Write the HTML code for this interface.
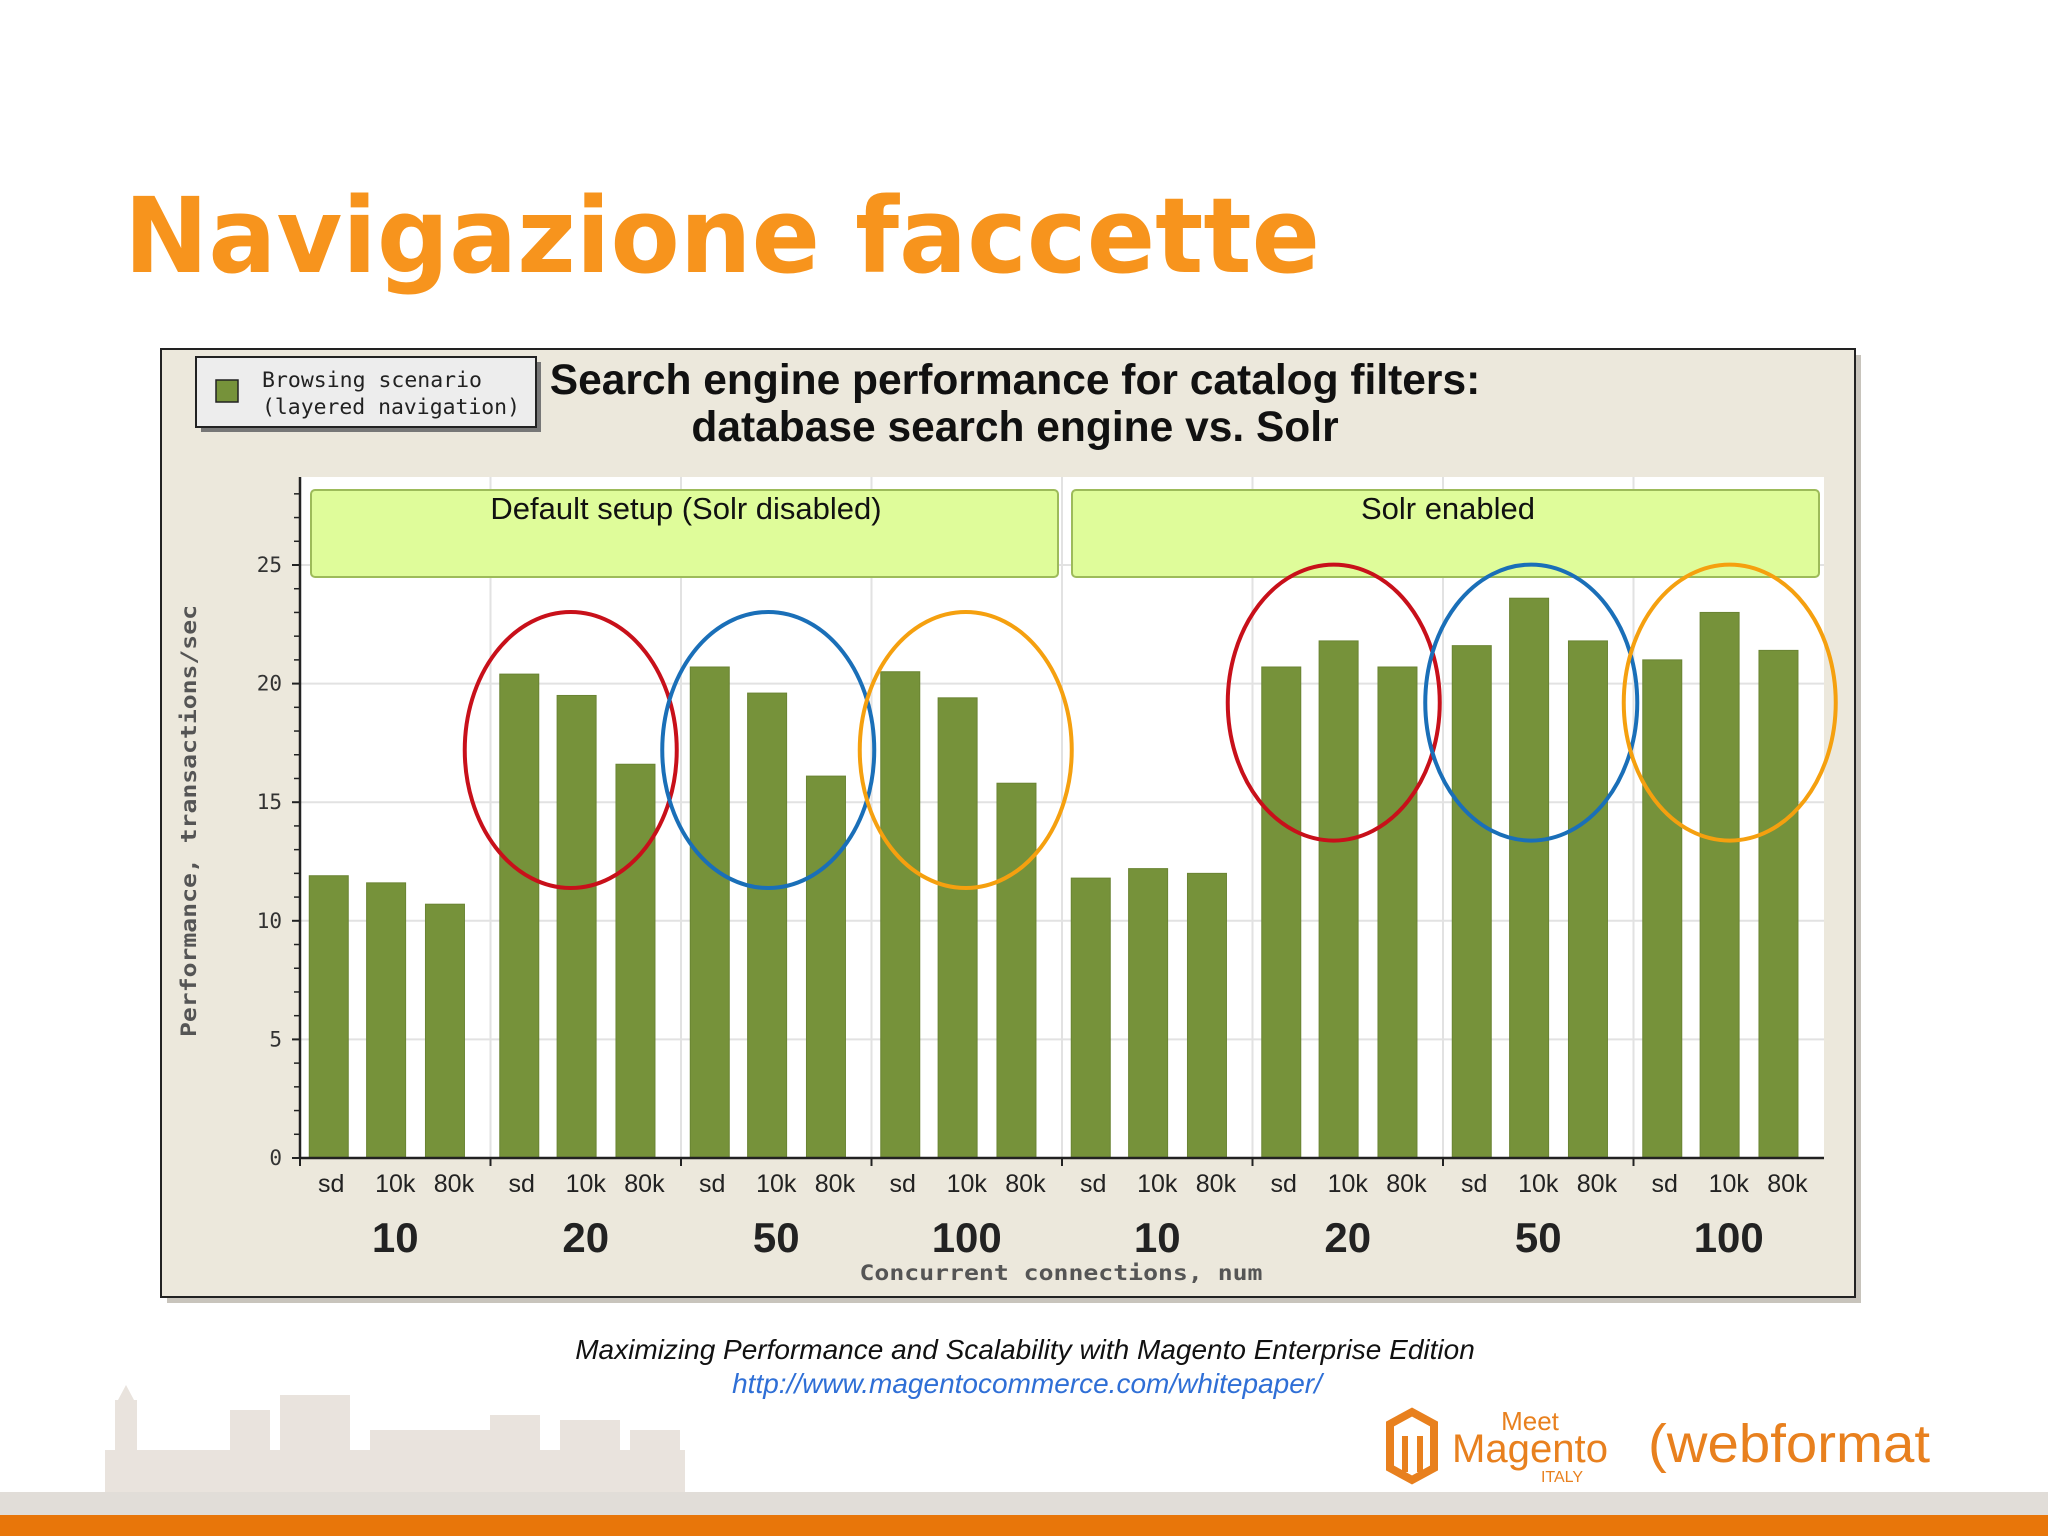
<!DOCTYPE html>
<html><head><meta charset="utf-8"><style>
html,body{margin:0;padding:0;background:#fff;}
svg{display:block;}
</style></head><body>
<svg id="chart" width="2048" height="1536" viewBox="0 0 2048 1536" xmlns="http://www.w3.org/2000/svg">
<rect x="0" y="0" width="2048" height="1536" fill="#ffffff"/>
<text x="124" y="272" font-family="'DejaVu Sans','Liberation Sans',sans-serif" font-weight="bold" font-size="104" fill="#F7941D" textLength="1196" lengthAdjust="spacingAndGlyphs">Navigazione faccette</text>

<g fill="#E9E3DD">
<rect x="105" y="1450" width="580" height="42"/>
<rect x="115" y="1400" width="22" height="50"/><polygon points="118,1400 126,1385 134,1400"/>
<rect x="230" y="1410" width="40" height="40"/><rect x="280" y="1395" width="70" height="55"/>
<rect x="370" y="1430" width="120" height="20"/><rect x="490" y="1415" width="50" height="35"/>
<rect x="560" y="1420" width="60" height="30"/><rect x="630" y="1430" width="50" height="20"/>
</g>
<rect x="0" y="1492" width="2048" height="23" fill="#E1DDD8"/>
<rect x="0" y="1515" width="2048" height="21" fill="#E8760A"/>

<g>
<rect x="167" y="355" width="1694" height="948" fill="#c8c4bc"/>
<rect x="161" y="349" width="1694" height="948" fill="#ECE8DC" stroke="#222" stroke-width="2"/>
<rect x="201" y="362" width="340" height="70" fill="#777"/>
<rect x="196" y="357" width="340" height="70" fill="#EDEDED" stroke="#222" stroke-width="2"/>
<rect x="216" y="380" width="22" height="22" fill="#76923A" stroke="#222" stroke-width="1.5"/>
<text x="262" y="387" font-family="'DejaVu Sans Mono','Liberation Mono',monospace" font-size="21" fill="#222" textLength="220" lengthAdjust="spacingAndGlyphs">Browsing scenario</text>
<text x="262" y="414" font-family="'DejaVu Sans Mono','Liberation Mono',monospace" font-size="21" fill="#222" textLength="258" lengthAdjust="spacingAndGlyphs">(layered navigation)</text>
<text x="1015" y="394" text-anchor="middle" font-family="'Liberation Sans',sans-serif" font-weight="bold" font-size="42.5" fill="#111">Search engine performance for catalog filters:</text>
<text x="1015" y="441" text-anchor="middle" font-family="'Liberation Sans',sans-serif" font-weight="bold" font-size="42.5" fill="#111">database search engine vs. Solr</text>
<rect x="300" y="477" width="1524" height="681" fill="#ffffff"/>
<g id="grid"></g>
<rect x="311" y="490" width="747" height="87" rx="4" fill="#DFFC9A" stroke="#9DBB5A" stroke-width="2"/>
<text x="686" y="519" text-anchor="middle" font-family="'Liberation Sans',sans-serif" font-size="31" fill="#111">Default setup (Solr disabled)</text>
<rect x="1072" y="490" width="747" height="87" rx="4" fill="#DFFC9A" stroke="#9DBB5A" stroke-width="2"/>
<text x="1448" y="519" text-anchor="middle" font-family="'Liberation Sans',sans-serif" font-size="31" fill="#111">Solr enabled</text>
<g id="bars"></g>
<g id="axes"></g>
<g id="ellipses"></g>
<text transform="translate(196,821) rotate(-90)" text-anchor="middle" font-family="'DejaVu Sans Mono','Liberation Mono',monospace" font-weight="bold" font-size="21" fill="#555" textLength="432" lengthAdjust="spacingAndGlyphs">Performance, transactions/sec</text>
<text x="1061" y="1280" text-anchor="middle" font-family="'DejaVu Sans Mono','Liberation Mono',monospace" font-weight="bold" font-size="21" fill="#555" textLength="403" lengthAdjust="spacingAndGlyphs">Concurrent connections, num</text>
</g>

<text x="1025" y="1359" text-anchor="middle" font-family="'Liberation Sans',sans-serif" font-style="italic" font-size="28" fill="#111">Maximizing Performance and Scalability with Magento Enterprise Edition</text>
<text x="1027" y="1393" text-anchor="middle" font-family="'Liberation Sans',sans-serif" font-style="italic" font-size="28" fill="#2F6FD6">http://www.magentocommerce.com/whitepaper/</text>

<g fill="#E8801E">
<polygon points="1390,1424 1412,1412 1434,1424 1434,1468 1412,1480 1390,1468" fill="none" stroke="#E8801E" stroke-width="8"/>
<rect x="1402" y="1436" width="6" height="36"/><rect x="1417" y="1436" width="6" height="36"/>
<text x="1530" y="1430" text-anchor="middle" font-family="'Liberation Sans',sans-serif" font-size="26">Meet</text>
<text x="1452" y="1462" font-family="'Liberation Sans',sans-serif" font-size="40" textLength="156" lengthAdjust="spacingAndGlyphs">Magento</text>
<text x="1562" y="1482" text-anchor="middle" font-family="'Liberation Sans',sans-serif" font-size="16">ITALY</text>
</g>
<g>
<text x="1648" y="1462" font-family="'Liberation Sans',sans-serif" font-size="54" fill="#E8801E" textLength="282" lengthAdjust="spacingAndGlyphs">(webformat</text>
</g>

<script>
const groupLabels = ["10","20","50","100","10","20","50","100"];
const subLabels = ["sd","10k","80k"];
const values = [11.9,11.6,10.7, 20.4,19.5,16.6, 20.7,19.6,16.1, 20.5,19.4,15.8, 11.8,12.2,12.0, 20.7,21.8,20.7, 21.6,23.6,21.8, 21.0,23.0,21.4];
const yTicks = [0,5,10,15,20,25];
const highlightGroups = [1,2,3,5,6,7];
const highlightCenters = [17.2,17.2,17.2,19.2,19.2,19.2];
const highlightColors = ["#C8101A","#1A6FB8","#F5A00F","#C8101A","#1A6FB8","#F5A00F"];

const NS = "http://www.w3.org/2000/svg";
const X0 = 300, X1 = 1824, Y0 = 1158, UNIT = 23.72;
const GW = (X1 - X0) / groupLabels.length;
const ELLIPSE_SHIFT = [-15, -8, -1, -14, -7, 1];
const yScale = v => Y0 - v * UNIT;
const groupX = g => X0 + g * GW;
const barCenter = i => groupX(Math.floor(i / 3)) + GW * [0.151, 0.452, 0.761][i % 3];
const labelCenter = i => groupX(Math.floor(i / 3)) + GW * [0.164, 0.5, 0.808][i % 3];
function mk(tag, attrs, parent, txt){
  const e = document.createElementNS(NS, tag);
  for (const k in attrs) e.setAttribute(k, attrs[k]);
  if (txt !== undefined) e.textContent = txt;
  parent.appendChild(e);
  return e;
}
const grid = document.getElementById("grid");
const bars = document.getElementById("bars");
const axes = document.getElementById("axes");
const ell = document.getElementById("ellipses");

yTicks.forEach(t => {
  if (t > 0) {
    const l = mk("line", {x1:X0, x2:X1, y1:yScale(t), y2:yScale(t), stroke:"#e2e2e2", "stroke-width":2}, grid);
    
    
  }
  const tl = mk("text", {x:X0-18, y:yScale(t)+7, "text-anchor":"end", "font-family":"'DejaVu Sans Mono','Liberation Mono',monospace", "font-size":21, fill:"#333"}, axes, String(t));
  
  
  const tk = mk("line", {x1:X0-8, x2:X0, y1:yScale(t), y2:yScale(t), stroke:"#222", "stroke-width":2}, axes);
  
  
});
for (let v = 1; v <= 28; v++) {
  if (v % 5 === 0) continue;
  const mt = mk("line", {x1:X0-6, x2:X0, y1:yScale(v), y2:yScale(v), stroke:"#222", "stroke-width":1.5}, axes);
  
  
}
for (let g = 1; g < groupLabels.length; g++) {
  const vl = mk("line", {x1:groupX(g), x2:groupX(g), y1:477, y2:Y0, stroke:"#e2e2e2", "stroke-width":2}, grid);
  
  
}
values.forEach((v, i) => {
  const cx = barCenter(i);
  const r = mk("rect", {x:cx-19.5, y:yScale(v), width:39, height:Y0-yScale(v), fill:"#76923A", stroke:"#6a8433", "stroke-width":1}, bars);
  
  
  const s = mk("text", {x:labelCenter(i), y:1192, "text-anchor":"middle", "font-family":"'Liberation Sans',sans-serif", "font-size":25, fill:"#222"}, axes, subLabels[i % 3]);
  
  
});
groupLabels.forEach((lab, g) => {
  const t = mk("text", {x:groupX(g)+GW*0.5, y:1252, "text-anchor":"middle", "font-family":"'Liberation Sans',sans-serif", "font-weight":"bold", "font-size":42, fill:"#222"}, axes, lab);
  
  
  const tk = mk("line", {x1:groupX(g), x2:groupX(g), y1:Y0, y2:Y0+8, stroke:"#222", "stroke-width":2}, axes);
  
  
});
const ya = mk("line", {x1:X0, x2:X0, y1:477, y2:Y0, stroke:"#222", "stroke-width":2.5}, axes);


const xa = mk("line", {x1:X0, x2:X1, y1:Y0, y2:Y0, stroke:"#222", "stroke-width":2.5}, axes);


highlightGroups.forEach((g, k) => {
  const e = mk("ellipse", {cx:groupX(g)+GW*0.5+ELLIPSE_SHIFT[k], cy:yScale(highlightCenters[k]), rx:106, ry:138, fill:"none", stroke:highlightColors[k], "stroke-width":4}, ell);
  
  
});
</script>
</svg>
</body></html>
